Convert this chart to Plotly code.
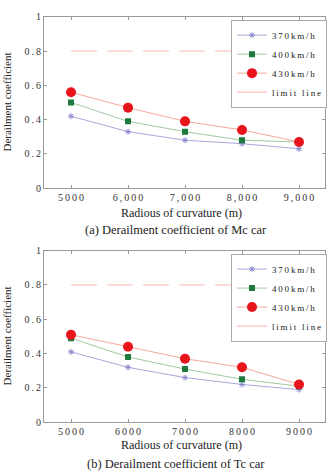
import plotly.graph_objects as go

radius = [5000, 6000, 7000, 8000, 9000]
mc_370 = [0.42, 0.33, 0.28, 0.26, 0.23]
mc_400 = [0.50, 0.39, 0.33, 0.28, 0.27]
mc_430 = [0.56, 0.47, 0.39, 0.34, 0.27]
tc_370 = [0.41, 0.32, 0.26, 0.22, 0.19]
tc_400 = [0.49, 0.38, 0.31, 0.25, 0.21]
tc_430 = [0.51, 0.44, 0.37, 0.32, 0.22]
limit_value = 0.8
x_ticks_a = ["5000", "6,000", "7,000", "8,000", "9,000"]
x_ticks_b = ["5000", "6000", "7000", "8000", "9000"]
y_tick_vals = [0, 0.2, 0.4, 0.6, 0.8, 1]
y_tick_text = ["0", "0.2", "0.4", "0.6", "0.8", "1"]
series_names = ["370km/h", "400km/h", "430km/h", "limit line"]

TS = "\u2009"
def spaced(s):
    return TS.join(list(s))

W, H = 331, 475
FONT = "Liberation Serif"

fig = go.Figure()

def add_panel(idx, d370, d400, d430):
    xa = "x" if idx == 1 else "x2"
    ya = "y" if idx == 1 else "y2"
    lg = "legend" if idx == 1 else "legend2"
    fig.add_trace(go.Scatter(x=radius, y=[limit_value] * len(radius), mode="lines",
                             line=dict(color="#f4b8ac", width=1, dash="26px,10px"),
                             name=spaced(series_names[3]), showlegend=False,
                             xaxis=xa, yaxis=ya, legend=lg))
    fig.add_trace(go.Scatter(x=radius, y=d370, mode="lines+markers",
                             line=dict(color="#a8a8dc", width=1),
                             marker=dict(symbol="asterisk-open", size=5, color="#8888cc",
                                         line=dict(width=1, color="#8888cc")),
                             name=spaced(series_names[0]), xaxis=xa, yaxis=ya, legend=lg))
    fig.add_trace(go.Scatter(x=radius, y=d400, mode="lines+markers",
                             line=dict(color="#a0c8a0", width=1),
                             marker=dict(symbol="square", size=6, color="#1e7a3c"),
                             name=spaced(series_names[1]), xaxis=xa, yaxis=ya, legend=lg))
    fig.add_trace(go.Scatter(x=radius, y=d430, mode="lines+markers",
                             line=dict(color="#f4a898", width=1),
                             marker=dict(symbol="circle", size=10, color="#e8141c"),
                             name=spaced(series_names[2]), xaxis=xa, yaxis=ya, legend=lg))
    fig.add_trace(go.Scatter(x=[None], y=[None], mode="lines",
                             line=dict(color="#f4b8ac", width=1),
                             name=spaced(series_names[3]), xaxis=xa, yaxis=ya, legend=lg))

add_panel(1, mc_370, mc_400, mc_430)
add_panel(2, tc_370, tc_400, tc_430)

xd = [44 / W, 325 / W]
yd1 = [1 - 187 / H, 1 - 11 / H]
yd2 = [1 - 427 / H, 1 - 251 / H]

axis_common = dict(showgrid=False, zeroline=False, showline=True, linecolor="#999999",
                   linewidth=1, mirror="ticks", ticks="inside", ticklen=3,
                   tickcolor="#999999", tickfont=dict(family=FONT, size=10, color="#333333"))

legend_common = dict(xanchor="right", yanchor="top", bgcolor="white",
                     bordercolor="#aaaaaa", borderwidth=1,
                     font=dict(family=FONT, size=9, color="#222222"),
                     tracegroupgap=0, itemwidth=30)

fig.update_layout(
    width=W, height=H, margin=dict(l=0, r=0, t=0, b=0),
    paper_bgcolor="white", plot_bgcolor="white",
    font=dict(family=FONT, color="#333333"),
    xaxis=dict(domain=xd, anchor="y", range=[4526, 9456], tickvals=radius,
               ticktext=[spaced(t) for t in x_ticks_a], **axis_common),
    yaxis=dict(domain=yd1, anchor="x", range=[0, 1], tickvals=y_tick_vals,
               ticktext=[spaced(t) for t in y_tick_text], **axis_common),
    xaxis2=dict(domain=xd, anchor="y2", range=[4526, 9456], tickvals=radius,
                ticktext=[spaced(t) for t in x_ticks_b], **axis_common),
    yaxis2=dict(domain=yd2, anchor="x2", range=[0, 1], tickvals=y_tick_vals,
                ticktext=[spaced(t) for t in y_tick_text], **axis_common),
    legend=dict(x=327 / W, y=1 - 14 / H, **legend_common),
    legend2=dict(x=327 / W, y=1 - 254 / H, **legend_common),
)

ann = [
    dict(text="Derailment coefficient", x=7 / W, y=1 - 99 / H, textangle=-90),
    dict(text="Derailment coefficient", x=7 / W, y=1 - 339 / H, textangle=-90),
    dict(text="Radious of curvature (m)", x=181 / W, y=1 - 212 / H, size=12),
    dict(text="Radious of curvature (m)", x=181 / W, y=1 - 450 / H, size=12),
    dict(text="(a) Derailment coefficient of Mc car", x=176 / W, y=1 - 230 / H, size=12.5),
    dict(text="(b) Derailment coefficient of Tc car", x=176 / W, y=1 - 470 / H, size=12.5),
]
for a in ann:
    fig.add_annotation(text=a["text"], x=a["x"], y=a["y"], xref="paper", yref="paper",
                       xanchor="center", yanchor="middle", showarrow=False,
                       textangle=a.get("textangle", 0),
                       font=dict(family=FONT, size=a.get("size", 11), color="#222222"))

fig.write_html("out.html")
